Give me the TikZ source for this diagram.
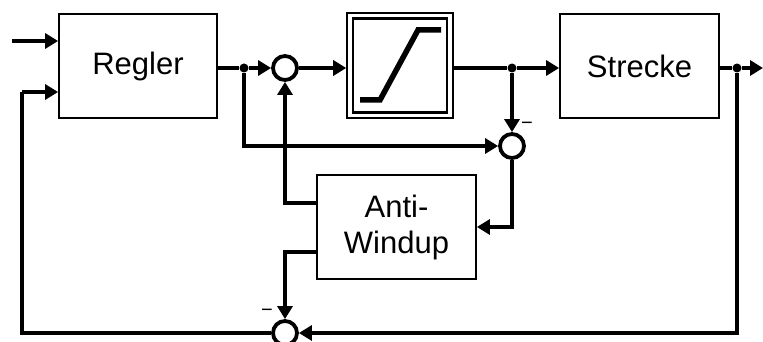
\documentclass[tikz,border=0pt]{standalone}
\usepackage{fontspec}
\setmainfont{Liberation Sans}
\usetikzlibrary{arrows.meta,calc}
\begin{document}
\begin{tikzpicture}[x=1pt,y=-1pt,
  blk/.style={draw,line width=1.8pt,rectangle,inner sep=0pt,font=\fontsize{31}{36}\selectfont,align=center},
  sumc/.style={draw,circle,line width=3.8pt,minimum size=24pt,inner sep=0pt},
  dotj/.style={fill,circle,minimum size=9pt,inner sep=0pt},
  sig/.style={line width=3.8pt},
  arr/.style={sig,-{Triangle[length=13pt,width=15pt]}},
  sgn/.style={inner sep=0pt,font=\fontsize{20}{20}\selectfont}]
\useasboundingbox (0,0) rectangle (763,342);
% blocks
\node[blk,minimum width=158pt,minimum height=104pt] (regler) at (138,66) {Regler};
\node[blk,minimum width=159pt,minimum height=104pt] (strecke) at (639.5,66) {Strecke};
\node[blk,minimum width=159pt,minimum height=104pt] (aw) at (396.5,227) {Anti-\\Windup};
\node[draw,line width=1.6pt,minimum width=106pt,minimum height=105pt,inner sep=0pt] (sat) at (400,65.5) {};
\node[draw,line width=2.4pt,minimum width=94pt,minimum height=94pt,inner sep=0pt] (satin) at (sat) {};
\draw[line width=5.5pt] (360,100) -- (380,100) -- (418,30) -- (441,30);
% summing points
\node[sumc] (c1) at (285,68) {};
\node[sumc] (c2) at (512,146) {};
\node[sumc] (c3) at (285,333) {};
% junctions
\node[dotj] (j1) at (244,68) {};
\node[dotj] (j2) at (512,68) {};
\node[dotj] (j3) at (737,68) {};
\coordinate (in) at (12,41);
\coordinate (outend) at (763,68);
\coordinate (fb) at (22,92);
% signs
\node[sgn] (m1) at (527,126) {−};
\node[sgn] (m2) at (267,313) {−};
% connectors
\draw[arr] (in) -- (regler.west |- in);
\draw[sig] (regler.east |- j1) -- (j1);
\draw[arr] (j1) -- (c1.west);
\draw[arr] (c1.east) -- (sat.west |- c1);
\draw[sig] (sat.east |- j2) -- (j2);
\draw[arr] (j2) -- (strecke.west |- j2);
\draw[sig] (strecke.east |- j3) -- (j3);
\draw[arr] (j3) -- (outend);
\draw[arr] (j1) |- (c2.west);
\draw[arr] (j2) -- (c2.north);
\draw[arr] (c2.south) |- (aw.east);
\draw[arr] ([yshift=24pt]aw.west) -| (c1.south);
\draw[arr] ([yshift=-25pt]aw.west) -| (c3.north);
\draw[arr] (j3) |- (c3.east);
\draw[sig] (c3.west) -| (fb);
\draw[arr] (fb) -- (regler.west |- fb);
\end{tikzpicture}
\end{document}
